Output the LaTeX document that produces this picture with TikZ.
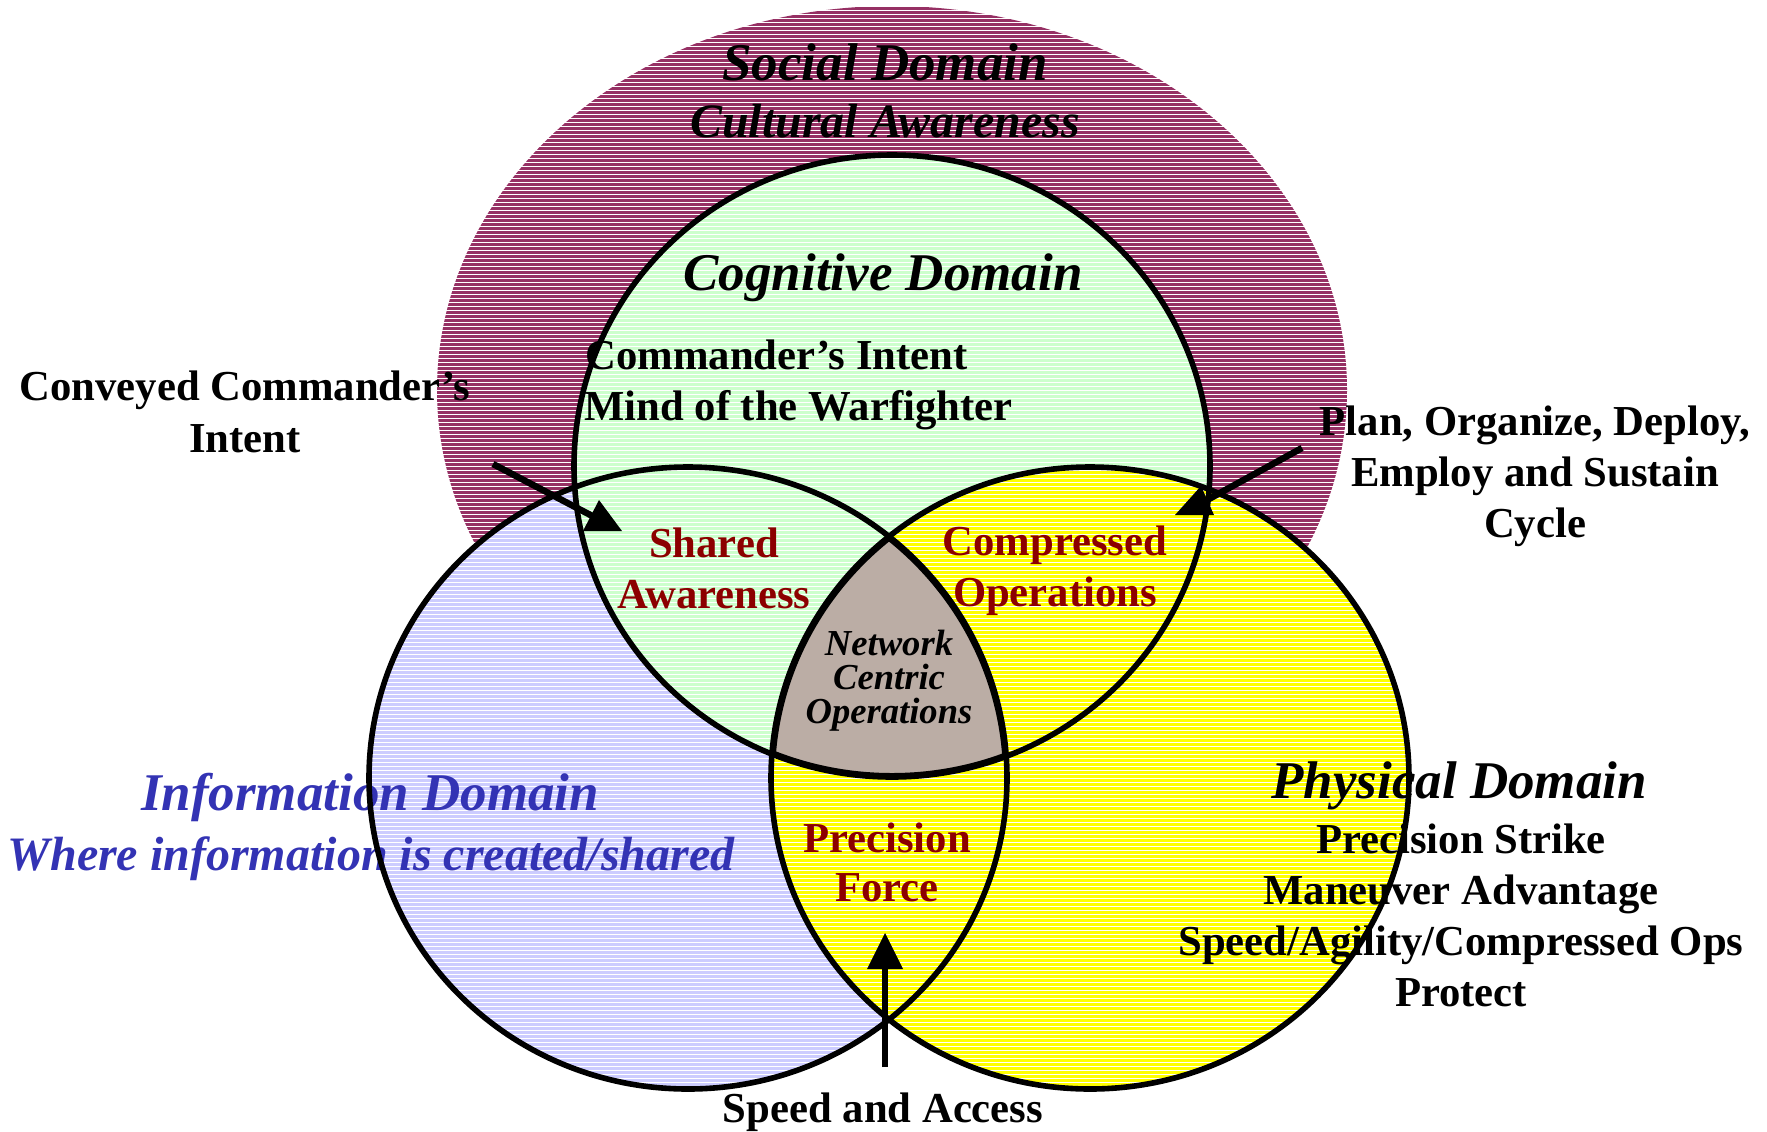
\documentclass[tikz,border=0pt]{standalone}
\usepackage{fontspec}
\setmainfont{Liberation Serif}
\definecolor{socialc}{RGB}{150,48,100}
\definecolor{cogc}{RGB}{204,255,204}
\definecolor{infoc}{RGB}{204,204,255}
\definecolor{physc}{RGB}{255,255,0}
\definecolor{ncoc}{RGB}{187,173,165}
\definecolor{redtxt}{RGB}{140,0,0}
\definecolor{bluetxt}{RGB}{51,51,180}
\newcommand\shSocial{(892,390) ellipse [x radius=455, y radius=384]}
\newcommand\shInfo{(688,778) ellipse [x radius=319, y radius=311]}
\newcommand\shCog{(892,466) ellipse [x radius=318, y radius=311]}
\newcommand\shPhys{(1090,778) ellipse [x radius=319, y radius=311]}
\begin{document}
\begin{tikzpicture}[x=0.5pt,y=-0.5pt,
  txt/.style={inner sep=0pt, anchor=base, font=\fontsize{21.35}{25}\selectfont\bfseries},
  ttl/.style={inner sep=0pt, anchor=base, font=\fontsize{26.5}{30}\selectfont\bfseries\itshape},
  sub/.style={inner sep=0pt, anchor=base, font=\fontsize{24}{28}\selectfont\bfseries\itshape},
  ncot/.style={inner sep=0pt, anchor=base, font=\fontsize{18.3}{20}\selectfont\bfseries\itshape},
  rim/.style={draw=black, line width=2.8pt},
  pointer/.style={line width=3.25pt, black}]
\useasboundingbox (0,0) rectangle (1767,1131);
% fills
\fill[socialc] \shSocial;
\fill[infoc] \shInfo;
\fill[cogc] \shCog;
\fill[physc] \shPhys;
% stripes
\foreach \yy in {2,6,...,1130} \draw[white, line width=0.4pt] (360,\yy) -- (1420,\yy);
% network centric region
\begin{scope}
  \clip \shInfo; \clip \shCog; \clip \shPhys;
  \fill[ncoc] (0,0) rectangle (1767,1131);
  \draw[line width=4pt] \shInfo;
  \draw[line width=4pt] \shCog;
  \draw[line width=4pt] \shPhys;
\end{scope}
% texts
\node[ttl] (soc1) at (885,80) {Social Domain};
\node[sub] (soc2) at (885,137) {Cultural Awareness};
\node[ttl] (cog1) at (883,290) {Cognitive Domain};
\node[txt, anchor=base west] (cog2) at (585,369) {Commander’s Intent};
\node[txt, anchor=base west] (cog3) at (584,420) {Mind of the Warfighter};
\node[txt] (cv1) at (245,400) {Conveyed Commander’s};
\node[txt] (cv2) at (245,452) {Intent};
\node[txt] (pl1) at (1535,435) {Plan, Organize, Deploy,};
\node[txt] (pl2) at (1535,486) {Employ and Sustain};
\node[txt] (pl3) at (1535,537) {Cycle};
\node[txt, text=redtxt] (sa1) at (714,557) {Shared};
\node[txt, text=redtxt] (sa2) at (714,608) {Awareness};
\node[txt, text=redtxt] (co1) at (1055,555) {Compressed};
\node[txt, text=redtxt] (co2) at (1055,606) {Operations};
\node[ncot] (nc1) at (889,655) {Network};
\node[ncot] (nc2) at (889,689) {Centric};
\node[ncot] (nc3) at (889,723) {Operations};
\node[txt, text=redtxt] (pf1) at (887,852) {Precision};
\node[txt, text=redtxt] (pf2) at (887,901) {Force};
\node[ttl, text=bluetxt] (in1) at (370,810) {Information Domain};
\node[sub, text=bluetxt] (in2) at (371,870) {Where information is created/shared};
\node[ttl] (ph1) at (1459,798) {Physical Domain};
\node[txt] (ph2) at (1461,853) {Precision Strike};
\node[txt] (ph3) at (1461,904) {Maneuver Advantage};
\node[txt] (ph4) at (1461,955) {Speed/Agility/Compressed Ops};
\node[txt] (ph5) at (1461,1006) {Protect};
\node[txt] (spd) at (883,1122) {Speed and Access};
% outlines
\draw[rim] \shInfo;
\draw[rim] \shCog;
\draw[rim] \shPhys;
% pointers
\coordinate (cvS) at (493,464);
\coordinate (cvE) at (600,520);
\draw[pointer] (cvS) -- (cvE);
\fill (599,500) -- (583,531) -- (622,531) -- cycle;
\coordinate (plS) at (1302,448);
\coordinate (plE) at (1198,505);
\draw[pointer] (plS) -- (plE);
\fill (1201,486) -- (1175,515) -- (1214,515) -- cycle;
\coordinate (spS) at (885,1067);
\coordinate (spE) at (885,955);
\draw[pointer] (spS) -- (spE);
\fill (885,933) -- (867,969) -- (903,969) -- cycle;
\end{tikzpicture}
\end{document}
